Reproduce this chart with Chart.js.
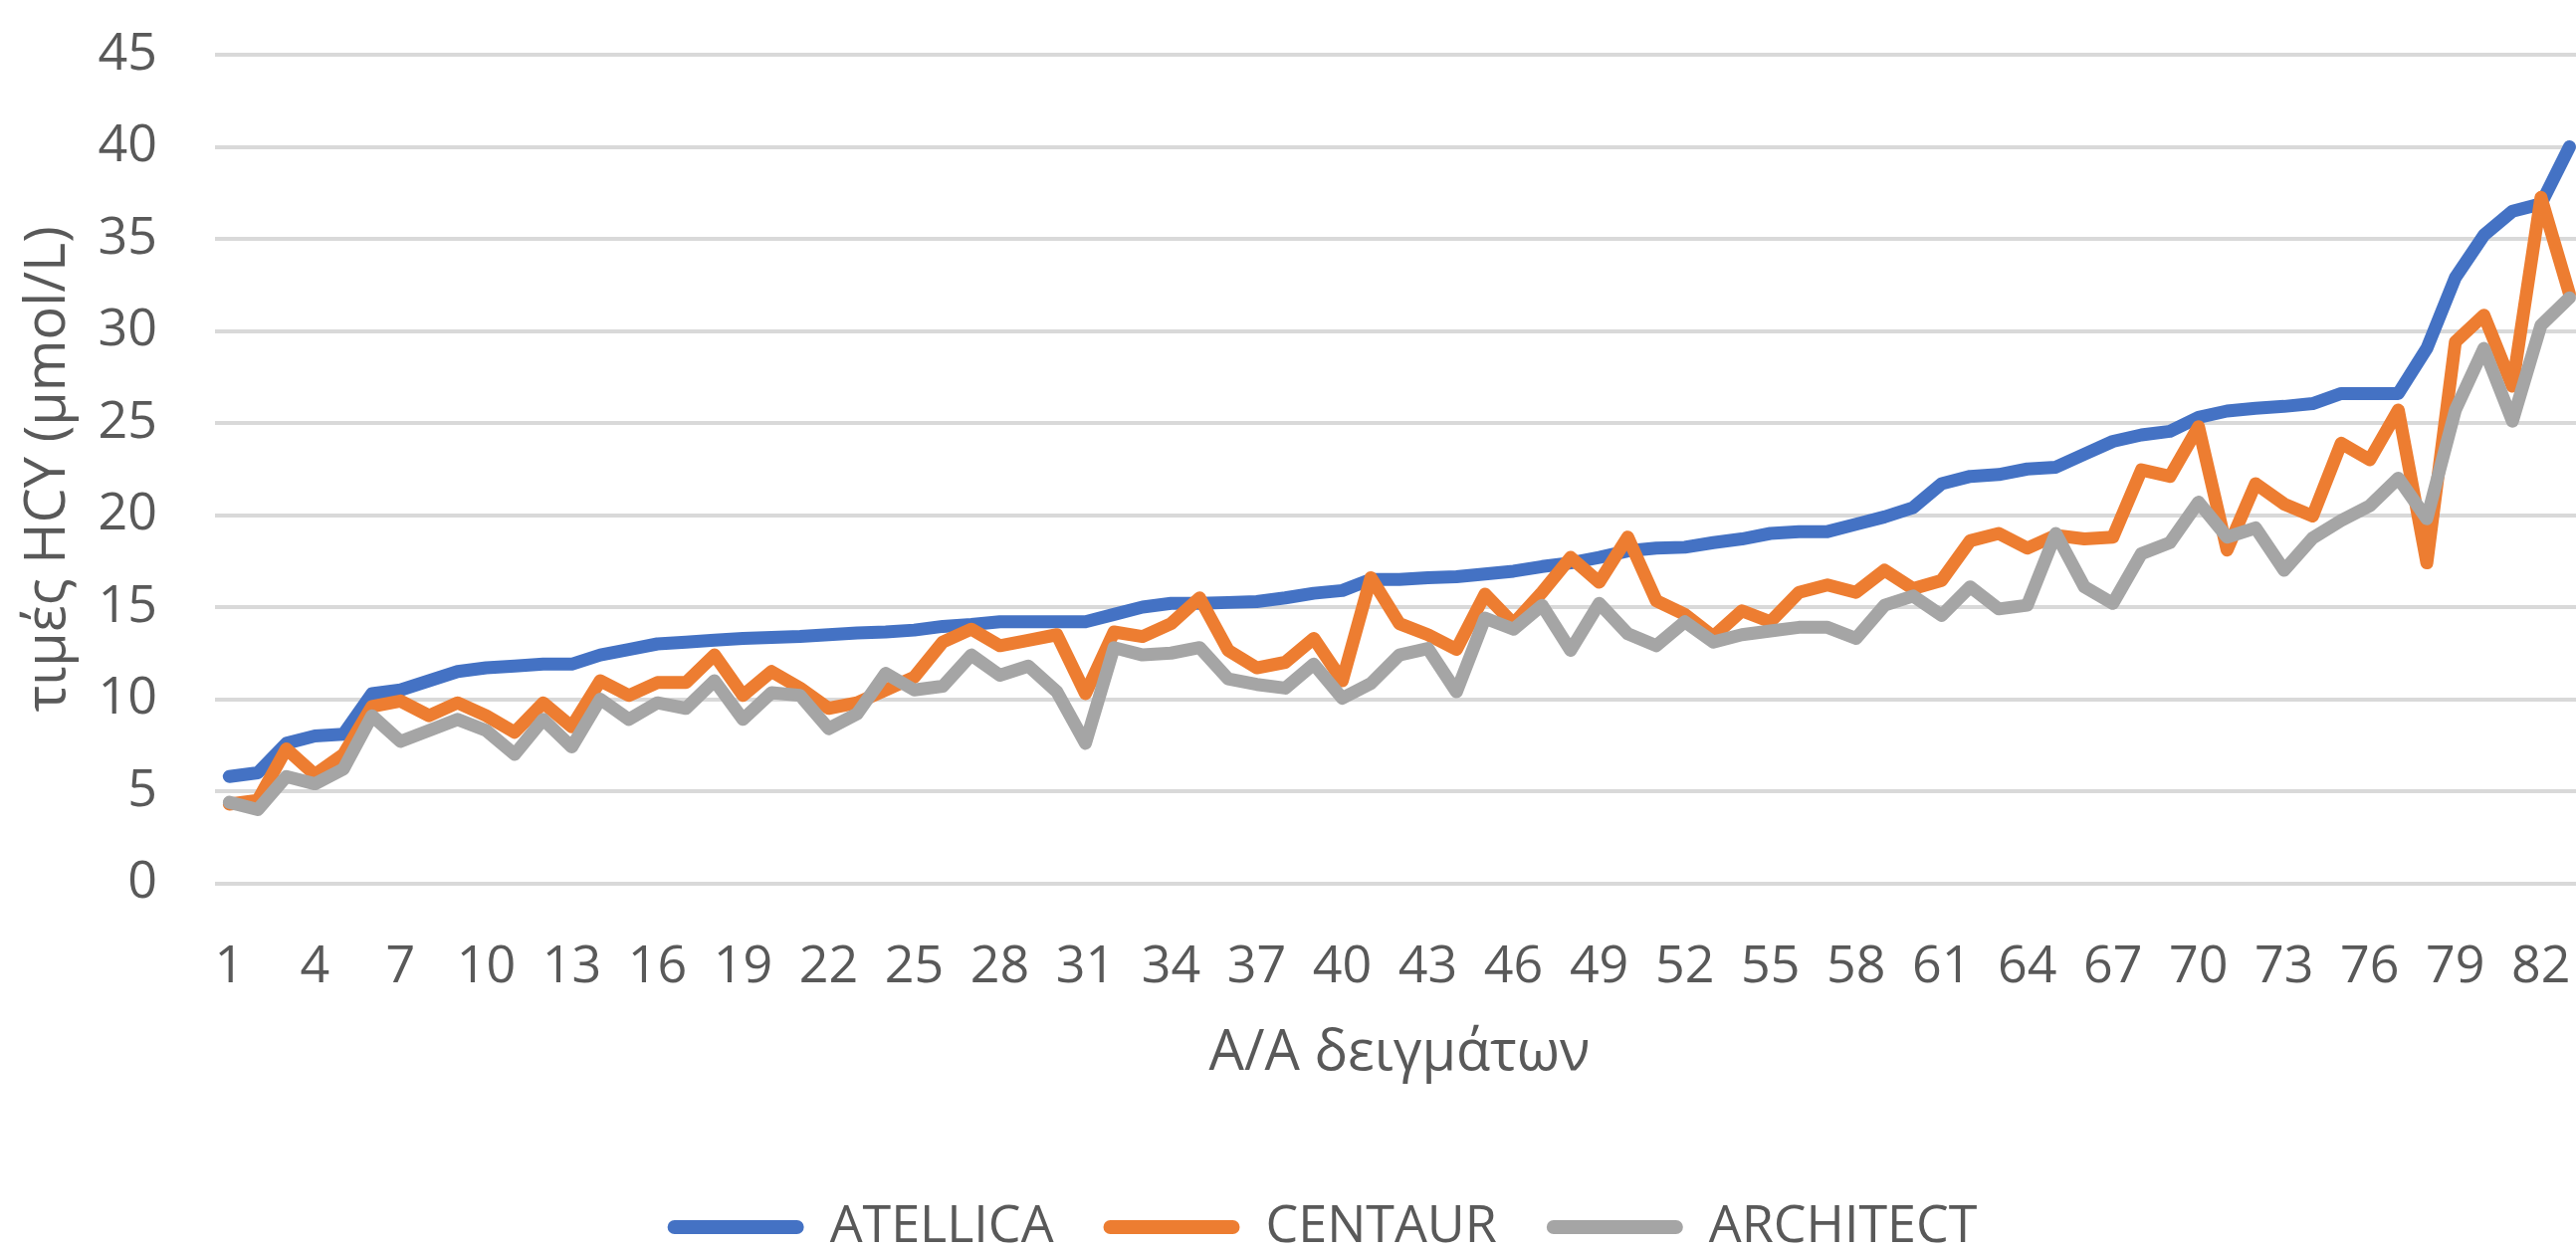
<!DOCTYPE html>
<html><head><meta charset="utf-8">
<script src="https://cdn.jsdelivr.net/npm/chart.js@4.4.0/dist/chart.umd.min.js"></script>
<style>
html,body{margin:0;padding:0;background:#ffffff;overflow:hidden;width:2588px;height:1255px}
canvas{display:block}
</style>
</head><body>
<canvas id="c" width="2628" height="1255" style="width:2628px;height:1255px"></canvas>
<script>
const categories = ['1','2','3','4','5','6','7','8','9','10','11','12','13','14','15','16','17','18','19','20',
'21','22','23','24','25','26','27','28','29','30','31','32','33','34','35','36','37','38','39','40',
'41','42','43','44','45','46','47','48','49','50','51','52','53','54','55','56','57','58','59','60',
'61','62','63','64','65','66','67','68','69','70','71','72','73','74','75','76','77','78','79','80',
'81','82','83'];

const atellica = [5.8,6.0,7.6,8.0,8.1,10.3,10.5,11.0,11.5,11.7,11.8,11.9,11.9,12.4,12.7,13.0,13.1,13.2,13.3,13.35,
13.4,13.5,13.6,13.65,13.75,13.95,14.05,14.2,14.2,14.2,14.2,14.6,15.0,15.2,15.2,15.25,15.3,15.5,15.75,15.9,
16.5,16.5,16.6,16.65,16.8,16.95,17.2,17.4,17.7,18.05,18.2,18.25,18.5,18.7,19.0,19.1,19.1,19.5,19.9,20.4,
21.7,22.1,22.2,22.5,22.6,23.3,24.0,24.35,24.55,25.3,25.65,25.8,25.9,26.05,26.6,26.6,26.6,29.05,32.9,35.2,
36.5,36.9,40.0];

const centaur = [4.3,4.5,7.3,5.9,7.0,9.6,9.9,9.1,9.8,9.1,8.2,9.8,8.5,11.0,10.2,10.9,10.9,12.4,10.2,11.5,
10.6,9.5,9.8,10.5,11.2,13.1,13.8,12.9,13.2,13.5,10.3,13.65,13.4,14.1,15.5,12.65,11.7,12.0,13.3,11.0,
16.6,14.1,13.5,12.7,15.7,14.1,15.8,17.7,16.35,18.8,15.35,14.6,13.4,14.8,14.2,15.8,16.2,15.8,17.0,16.0,
16.45,18.6,19.0,18.2,18.9,18.7,18.8,22.45,22.1,24.8,18.1,21.7,20.6,19.95,23.9,23.0,25.7,17.4,29.4,30.85,
27.0,37.25,32.0];

const architect = [4.4,4.0,5.8,5.4,6.2,9.1,7.7,8.3,8.9,8.3,7.0,8.9,7.4,10.0,8.9,9.8,9.5,11.0,8.9,10.35,
10.2,8.4,9.2,11.4,10.5,10.7,12.4,11.3,11.8,10.4,7.6,12.8,12.4,12.5,12.8,11.1,10.8,10.6,11.9,10.05,
10.85,12.4,12.75,10.4,14.4,13.8,15.1,12.65,15.2,13.55,12.9,14.2,13.1,13.5,13.7,13.9,13.9,13.3,15.1,15.6,
14.55,16.1,14.9,15.1,19.0,16.1,15.2,17.9,18.5,20.7,18.8,19.3,17.0,18.75,19.7,20.5,22.0,19.8,25.7,29.05,
25.1,30.3,31.8];

const seriesNames = ['ATELLICA', 'CENTAUR', 'ARCHITECT'];
const seriesColors = ['#4472C4', '#ED7D31', '#A5A5A5'];
const yAxisTitle = 'τιμές HCY (μmol/L)';
const xAxisTitle = 'Α/Α δειγμάτων';
const yMin = 0, yMax = 45, yStep = 5;
const xLabelEvery = 3;

const FONT = '"Open Sans", "Noto Sans", sans-serif';
const TEXT = '#595959';
Chart.defaults.font.family = FONT;
Chart.defaults.color = TEXT;

const legendShift = {
  id: 'legendShift',
  afterLayout(chart) {
    const l = chart.legend;
    if (!l) return;
    l.left += 27; l.right += 27;
    l.top += 14; l.bottom += 14;
  }
};

const values = [atellica, centaur, architect];
const datasets = values.map((v, i) => ({
  label: seriesNames[i],
  data: v,
  borderColor: seriesColors[i],
  backgroundColor: seriesColors[i],
  borderWidth: 13,
  borderJoinStyle: 'round',
  borderCapStyle: 'round',
  pointRadius: 0,
  pointHoverRadius: 0,
  tension: 0,
  fill: false,
  order: 3 - i
}));

new Chart(document.getElementById('c'), {
  type: 'line',
  data: { labels: categories, datasets },
  plugins: [legendShift],
  options: {
    responsive: false,
    devicePixelRatio: 1,
    animation: false,
    layout: { padding: { top: 55, right: 25, bottom: 0, left: 0 } },
    plugins: {
      tooltip: { enabled: false },
      legend: {
        position: 'bottom',
        align: 'center',
        labels: {
          font: { size: 52, family: FONT },
          color: TEXT,
          boxWidth: 137,
          boxHeight: 14,
          useBorderRadius: true,
          borderRadius: 7,
          padding: 50,
          sort: (a, b) => a.datasetIndex - b.datasetIndex,
          generateLabels: (chart) => {
            const items = Chart.defaults.plugins.legend.labels.generateLabels(chart);
            return items.map(it => Object.assign(it, {
              fillStyle: seriesColors[it.datasetIndex],
              strokeStyle: 'rgba(0,0,0,0)',
              lineWidth: 0
            }));
          }
        }
      }
    },
    scales: {
      x: {
        type: 'category',
        offset: true,
        grid: { display: false },
        border: { display: false },
        ticks: {
          autoSkip: false,
          maxRotation: 0,
          minRotation: 0,
          padding: 45,
          font: { size: 52 },
          color: TEXT,
          callback: function (val, idx) { return idx % xLabelEvery === 0 ? categories[idx] : null; }
        },
        title: {
          display: true,
          text: xAxisTitle,
          font: { size: 56 },
          color: TEXT,
          padding: { top: 0, bottom: 50 }
        },
        afterFit: (s) => { s.height = 255.5; }
      },
      y: {
        min: yMin,
        max: yMax,
        grid: {
          color: '#D9D9D9',
          lineWidth: 4,
          drawTicks: true,
          tickLength: 50,
          tickColor: 'rgba(0,0,0,0)'
        },
        border: { display: false },
        ticks: {
          stepSize: yStep,
          padding: 8,
          font: { size: 52 },
          color: TEXT
        },
        title: {
          display: true,
          text: yAxisTitle,
          font: { size: 56 },
          color: TEXT,
          padding: { top: 15, bottom: 0 }
        },
        afterFit: (s) => { s.width = 216; }
      }
    }
  }
});
</script>
</body></html>
